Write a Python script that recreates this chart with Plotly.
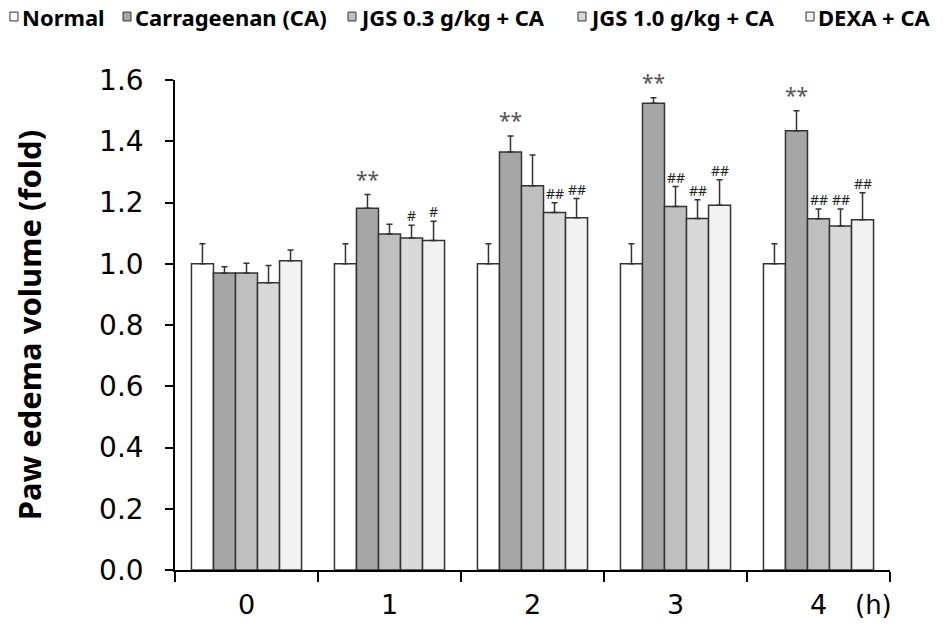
import plotly.graph_objects as go

hours = ["0", "1", "2", "3", "4"]
series_names = ["Normal", "Carrageenan (CA)", "JGS 0.3 g/kg + CA", "JGS 1.0 g/kg + CA", "DEXA + CA"]
normal = [1.000, 1.000, 1.000, 1.000, 1.000]
normal_err = [0.065, 0.065, 0.065, 0.065, 0.065]
ca = [0.970, 1.181, 1.365, 1.524, 1.434]
ca_err = [0.020, 0.045, 0.052, 0.018, 0.066]
jgs03 = [0.970, 1.097, 1.255, 1.187, 1.147]
jgs03_err = [0.032, 0.032, 0.100, 0.065, 0.032]
jgs10 = [0.938, 1.084, 1.167, 1.148, 1.123]
jgs10_err = [0.056, 0.042, 0.032, 0.061, 0.056]
dexa = [1.010, 1.076, 1.150, 1.191, 1.144]
dexa_err = [0.035, 0.063, 0.063, 0.083, 0.088]
normal_sig = ["", "", "", "", ""]
ca_sig = ["", "**", "**", "**", "**"]
jgs03_sig = ["", "", "", "##", "##"]
jgs10_sig = ["", "#", "##", "##", "##"]
dexa_sig = ["", "#", "##", "##", "##"]

colors = ["#ffffff", "#a6a6a6", "#bfbfbf", "#d9d9d9", "#f2f2f2"]
values = [normal, ca, jgs03, jgs10, dexa]
errors = [normal_err, ca_err, jgs03_err, jgs10_err, dexa_err]
sigs = [normal_sig, ca_sig, jgs03_sig, jgs10_sig, dexa_sig]

FONT = "Noto Sans"
TICKFONT = "DejaVu Sans"
W, H = 948, 632
ML, MR, MT, MB = 175, 58, 80, 54
PW, PH = W - ML - MR, H - MT - MB
bargap = 0.23
nser = len(series_names)
bw = (1 - bargap) / nser

fig = go.Figure()
for i in range(nser):
    fig.add_trace(go.Bar(
        x=hours, y=values[i], name=series_names[i], showlegend=False,
        marker=dict(color=colors[i], line=dict(color="#333333", width=1.5)),
        error_y=dict(type="data", array=errors[i], arrayminus=[0] * len(hours),
                     symmetric=False, color="#333333", thickness=1.5, width=3),
    ))

annotations = []
shapes = []
for i in range(nser):
    for j, h in enumerate(hours):
        s = sigs[i][j]
        if not s:
            continue
        xpos = j - bw * (nser - 1) / 2 + i * bw
        star = s.startswith("*")
        annotations.append(dict(
            x=xpos, y=values[i][j] + errors[i][j], xref="x", yref="y",
            text=s, showarrow=False, yanchor="bottom",
            yshift=0 if star else -2,
            font=dict(family=FONT, size=21 if star else 14,
                      color="#555555" if star else "#222222"),
        ))
annotations.append(dict(
    x=1, y=0, xref="paper", yref="paper", xanchor="right", yanchor="top",
    yshift=-18, xshift=4, text="(h)", showarrow=False,
    font=dict(family=TICKFONT, size=26, color="black"),
))

# legend drawn in paper coordinates (pixel layout -> paper fractions)
def px_x(p):
    return (p - ML) / PW

def px_y(p):
    return (H - MB - p) / PH

legend_box_left = [10, 123, 348, 578, 806]
for i in range(nser):
    x0 = legend_box_left[i]
    shapes.append(dict(type="rect", xref="paper", yref="paper",
                       x0=px_x(x0), x1=px_x(x0 + 8), y0=px_y(20), y1=px_y(11),
                       fillcolor=colors[i], line=dict(color="#333333", width=1)))
    annotations.append(dict(
        x=px_x(x0 + 10), y=px_y(15.5), xref="paper", yref="paper",
        xanchor="left", yanchor="middle", showarrow=False, text=series_names[i],
        font=dict(family=FONT, size=22, weight="bold", color="black"),
    ))

fig.update_layout(
    width=W, height=H,
    margin=dict(l=ML, r=MR, t=MT, b=MB),
    paper_bgcolor="white", plot_bgcolor="white",
    barmode="group", bargap=bargap, bargroupgap=0,
    font=dict(family=FONT, color="black"),
    showlegend=False,
    annotations=annotations,
    shapes=shapes,
)
fig.update_xaxes(
    type="category", showline=True, linecolor="black", linewidth=1.5,
    ticks="outside", tickson="boundaries", ticklen=10, tickcolor="black", tickwidth=1.5,
    tickfont=dict(family=TICKFONT, size=27, color="black"), showgrid=False,
    ticklabelstandoff=10,
    range=[-0.5, 4.5],
)
fig.update_yaxes(
    range=[0, 1.6], dtick=0.2, tickformat=".1f",
    showline=True, linecolor="black", linewidth=1.5,
    ticks="outside", ticklen=8, tickcolor="black", tickwidth=1.5,
    tickfont=dict(family=TICKFONT, size=28, color="black"), showgrid=False, zeroline=False,
    ticklabelstandoff=16,
    title=dict(text="Paw edema volume (fold)", standoff=48,
               font=dict(family=FONT, size=31, weight="bold", color="black")),
)

fig.write_html("out.html")
